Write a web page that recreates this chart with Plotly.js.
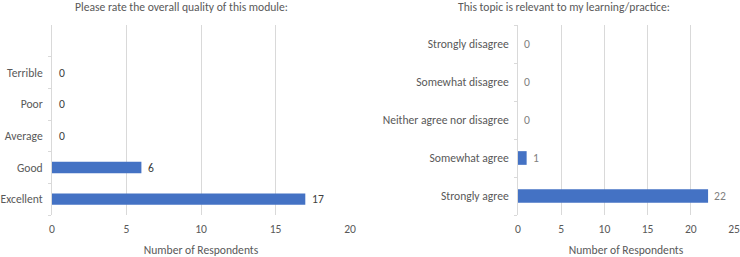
<!DOCTYPE html>
<html><head><meta charset="utf-8">
<script src="https://cdn.plot.ly/plotly-3.0.1.min.js"></script>
<style>html,body{margin:0;padding:0;background:#fff}#chart{width:740px;height:257px}</style>
</head><body><div id="chart"></div>
<script>
const qualityCats = ["Excellent", "Good", "Average", "Poor", "Terrible"];
const qualityVals = [17, 6, 0, 0, 0];
const relevCats = ["Strongly agree", "Somewhat agree", "Neither agree nor disagree", "Somewhat disagree", "Strongly disagree"];
const relevVals = [22, 1, 0, 0, 0];
const qualityTitle = "Please rate the overall quality of this module:";
const relevTitle = "This topic is relevant to my learning/practice:";
const xTitle = "Number of Respondents";

const FONT = "Carlito, Lato, 'Open Sans', sans-serif";
const FS = 11.6;
const BLUE = "#4472c4";
const GRID = "#d9d9d9";
const TXT = "#595959";

const traces = [
  {type: "bar", orientation: "h", x: qualityVals, y: qualityCats, xaxis: "x", yaxis: "y",
   marker: {color: BLUE}, hoverinfo: "none"},
  {type: "bar", orientation: "h", x: relevVals, y: relevCats, xaxis: "x2", yaxis: "y2",
   marker: {color: BLUE}, hoverinfo: "none"}
];

const annotations = [];
qualityVals.forEach((v, i) => annotations.push({x: v, y: qualityCats[i], xref: "x", yref: "y",
  text: String(v), showarrow: false, xanchor: "left", xshift: 5, font: {family: FONT, size: FS, color: "#404040"}}));
relevVals.forEach((v, i) => annotations.push({x: v, y: relevCats[i], xref: "x2", yref: "y2",
  text: String(v), showarrow: false, xanchor: "left", xshift: 4, font: {family: FONT, size: FS, color: "#7f7f7f"}}));
annotations.push({xref: "paper", yref: "paper", x: 181/740, y: 1, yshift: 18, xanchor: "center", yanchor: "middle",
  text: qualityTitle, showarrow: false, font: {family: FONT, size: FS, color: TXT}});
annotations.push({xref: "paper", yref: "paper", x: 564/740, y: 1, yshift: 18, xanchor: "center", yanchor: "middle",
  text: relevTitle, showarrow: false, font: {family: FONT, size: FS, color: TXT}});

const xCommon = {showgrid: true, gridcolor: GRID, gridwidth: 1, zeroline: false, showline: false,
  ticks: "", ticklabelstandoff: 5, tickfont: {family: FONT, size: FS, color: TXT}, fixedrange: true,
  title: {text: xTitle, font: {family: FONT, size: FS, color: TXT}, standoff: 14}};
const yCommon = {type: "category", showline: true, linecolor: GRID, linewidth: 1, showgrid: false,
  ticks: "outside", ticklen: 3, tickcolor: GRID, tickson: "boundaries", ticklabelstandoff: 6,
  tickfont: {family: FONT, size: FS, color: TXT}, fixedrange: true};

const layout = {
  width: 740, height: 257,
  margin: {l: 0, r: 0, t: 25, b: 42},
  paper_bgcolor: "#fff", plot_bgcolor: "#fff",
  showlegend: false, bargap: 0.64,
  font: {family: FONT, size: FS, color: TXT},
  xaxis: Object.assign({}, xCommon, {domain: [52/740, 350/740], range: [0, 20], dtick: 5, anchor: "y"}),
  yaxis: Object.assign({}, yCommon, {domain: [0, 1], anchor: "x", range: [-0.5, 5.5],
    categoryorder: "array", categoryarray: qualityCats}),
  xaxis2: Object.assign({}, xCommon, {domain: [518/740, 734/740], range: [0, 25], dtick: 5, anchor: "y2"}),
  yaxis2: Object.assign({}, yCommon, {domain: [0, 1], anchor: "x2", range: [-0.5, 4.5],
    categoryorder: "array", categoryarray: relevCats}),
  annotations: annotations
};
Plotly.newPlot("chart", traces, layout, {staticPlot: true, displayModeBar: false});
</script></body></html>
